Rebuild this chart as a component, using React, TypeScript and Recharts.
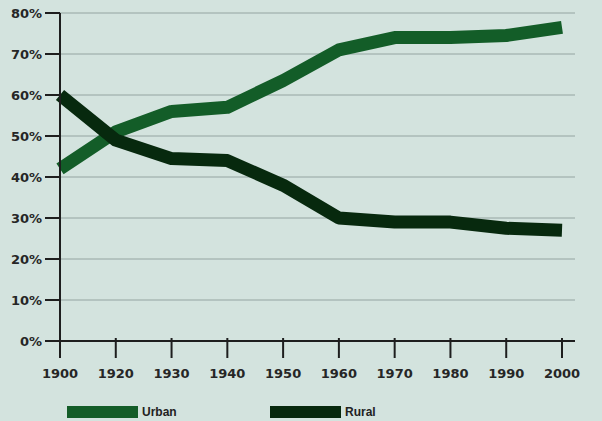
import { CartesianGrid, Legend, Line, LineChart, XAxis, YAxis } from "recharts";

const years = ["1900", "1920", "1930", "1940", "1950", "1960", "1970", "1980", "1990", "2000"];
const urban = [42, 51, 56, 57, 63.5, 71, 74, 74, 74.5, 76.5];
const rural = [60, 49, 44.5, 44, 38, 30, 29, 29, 27.5, 27];
const yTicks = [0, 10, 20, 30, 40, 50, 60, 70, 80];

const URBAN = "#135d28";
const RURAL = "#07290e";

const rows = years.map((year, i) => ({ year, urban: urban[i], rural: rural[i] }));

const tickStyle = { fill: "#262626", fontSize: 13, fontWeight: 700, fontFamily: "DejaVu Sans" };

function LegendBox() {
  const items = [
    { label: "Urban", color: URBAN, left: 67 },
    { label: "Rural", color: RURAL, left: 270 },
  ];
  return (
    <div style={{ position: "relative", height: 14, fontFamily: "Liberation Sans", fontWeight: 700, fontSize: 12 }}>
      {items.map((it) => (
        <div key={it.label} style={{ position: "absolute", left: it.left, top: 0, display: "flex", alignItems: "flex-end" }}>
          <span style={{ display: "inline-block", width: 71, height: 12, background: it.color }} />
          <span style={{ marginLeft: 4, color: "#222", lineHeight: "12px" }}>{it.label}</span>
        </div>
      ))}
    </div>
  );
}

export default function App() {
  return (
    <div style={{ position: "absolute", left: 0, top: 0, width: 602, height: 421, background: "#d3e3de" }}>
      <LineChart width={602} height={421} data={rows} margin={{ top: 13, right: 27, left: 0, bottom: 26 }}>
        <CartesianGrid horizontal vertical={false} stroke="#94a4a1" strokeWidth={1} />
        <XAxis
          dataKey="year"
          padding={{ left: 0, right: 13 }}
          height={40}
          tick={tickStyle}
          tickSize={20}
          tickMargin={8}
          axisLine={{ stroke: "#1e1e1e", strokeWidth: 2 }}
          tickLine={{ stroke: "#1e1e1e", strokeWidth: 2, transform: "translate(0,-3)" }}
          interval={0}
        />
        <YAxis
          domain={[0, 80]}
          ticks={yTicks}
          width={60}
          tickFormatter={(v: number) => `${v}%`}
          tick={tickStyle}
          tickSize={15}
          tickMargin={3}
          axisLine={{ stroke: "#1e1e1e", strokeWidth: 2 }}
          tickLine={{ stroke: "#1e1e1e", strokeWidth: 2 }}
          interval={0}
        />
        <Legend
          verticalAlign="bottom"
          content={() => <LegendBox />}
          wrapperStyle={{ position: "absolute", left: 0, top: 406, width: 602 }}
        />
        <Line
          type="linear"
          dataKey="urban"
          name="Urban"
          stroke={URBAN}
          strokeWidth={13}
          strokeLinejoin="round"
          strokeLinecap="butt"
          dot={false}
          activeDot={false}
          isAnimationActive={false}
        />
        <Line
          type="linear"
          dataKey="rural"
          name="Rural"
          stroke={RURAL}
          strokeWidth={13}
          strokeLinejoin="round"
          strokeLinecap="butt"
          dot={false}
          activeDot={false}
          isAnimationActive={false}
        />
      </LineChart>
    </div>
  );
}
